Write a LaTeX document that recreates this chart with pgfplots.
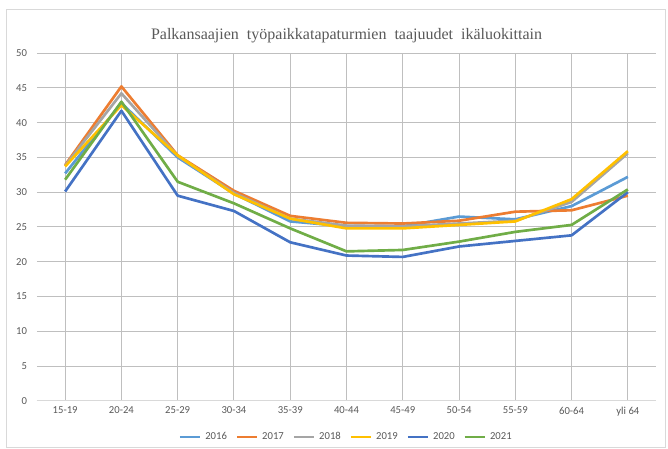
\documentclass[border=0pt]{standalone}
\usepackage{pgfplots}
\pgfplotsset{compat=1.18}
\usepackage{fontspec}
\setmainfont{Carlito}
\newfontfamily\titlefont{Liberation Serif}
\definecolor{c16}{HTML}{5B9BD5}
\definecolor{c17}{HTML}{ED7D31}
\definecolor{c18}{HTML}{A5A5A5}
\definecolor{c19}{HTML}{FFC000}
\definecolor{c20}{HTML}{4472C4}
\definecolor{c21}{HTML}{70AD47}
\definecolor{txt}{HTML}{595959}
\definecolor{grid}{HTML}{D9D9D9}
\begin{document}
\begin{tikzpicture}
\useasboundingbox (-27.75pt,-36pt) rectangle (473.25pt,300.75pt);
\begin{axis}[
  at={(0,0)}, anchor=south west,
  scale only axis,
  width=464.25pt, height=261pt,
  xmin=-0.5, xmax=10.5, ymin=0, ymax=50,
  ytick={0,5,...,50},
  xtick={0,...,10},
  xticklabels={15-19,20-24,25-29,30-34,35-39,40-44,45-49,50-54,55-59,60-64,yli 64},
  axis line style={draw=none},
  axis x line*=bottom,
  x axis line style={draw=grid, line width=0.75pt},
  tick style={draw=none},
  ymajorgrids, grid style={grid, line width=0.75pt},
  ticklabel style={font=\fontsize{8}{9.6}\selectfont, text=txt},
  /pgf/number format/assume math mode=true,
  yticklabel style={xshift=-4pt},
  xticklabel style={yshift=-1pt},
  title={\titlefont\fontsize{12}{14}\selectfont Palkansaajien\ \ työpaikkatapaturmien\ \ taajuudet\ \ ikäluokittain},
  title style={text=txt, yshift=-2pt},
  legend style={at={(0.5,-0.1034)}, anchor=center, draw=none, fill=none,
    font=\fontsize{8}{9.6}\selectfont, text=txt, column sep=1pt,
    /tikz/every even column/.append style={column sep=4.5pt}},
  legend columns=6,
  legend image code/.code={\draw[#1,line width=2pt] plot coordinates {(0pt,0pt) (15pt,0pt)};},
  every axis plot/.append style={line width=2pt, line join=round},
]
\addplot[c16] coordinates {(0,32.7)(1,42.8)(2,35.0)(3,29.8)(4,25.8)(5,25.1)(6,25.1)(7,26.5)(8,26.1)(9,28.0)(10,32.2)};
\addlegendentry{2016}
\addplot[c17] coordinates {(0,33.9)(1,45.2)(2,35.3)(3,30.2)(4,26.6)(5,25.6)(6,25.5)(7,25.9)(8,27.2)(9,27.4)(10,29.5)};
\addlegendentry{2017}
\addplot[c18] coordinates {(0,33.8)(1,44.2)(2,35.2)(3,29.9)(4,26.2)(5,25.2)(6,25.1)(7,25.5)(8,25.9)(9,28.6)(10,35.6)};
\addlegendentry{2018}
\addplot[c19] coordinates {(0,33.7)(1,42.5)(2,35.3)(3,29.7)(4,26.2)(5,24.8)(6,24.8)(7,25.3)(8,25.8)(9,29.0)(10,35.9)};
\addlegendentry{2019}
\addplot[c20] coordinates {(0,30.1)(1,41.7)(2,29.5)(3,27.3)(4,22.8)(5,20.9)(6,20.7)(7,22.2)(8,23.0)(9,23.8)(10,30.0)};
\addlegendentry{2020}
\addplot[c21] coordinates {(0,31.8)(1,43.0)(2,31.5)(3,28.4)(4,24.8)(5,21.5)(6,21.7)(7,22.9)(8,24.3)(9,25.3)(10,30.4)};
\addlegendentry{2021}
\end{axis}
\draw[grid, line width=0.75pt] (-22.5pt,-35.25pt) rectangle (471pt,293.25pt);
\end{tikzpicture}
\end{document}
